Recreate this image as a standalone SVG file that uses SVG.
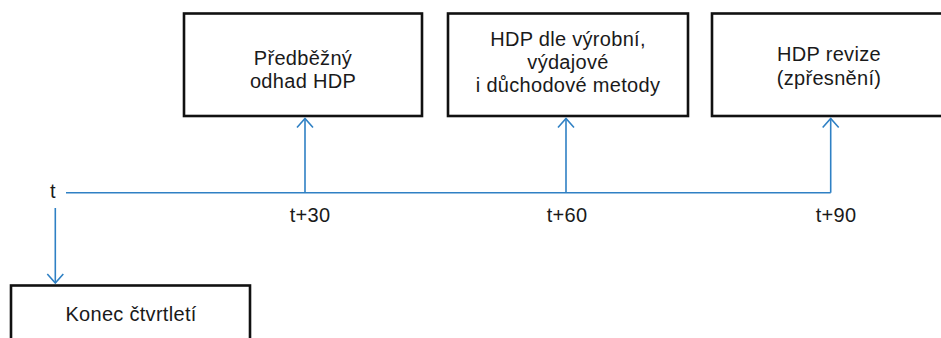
<svg xmlns="http://www.w3.org/2000/svg" width="941" height="338" viewBox="0 0 941 338">
<style>
.box{fill:#fff;stroke:#111;stroke-width:2.6}
.lbl{font-family:"Liberation Sans",Arial,sans-serif;font-size:20px;letter-spacing:0.3px;fill:#1a1a1a;text-anchor:middle}
.ln{fill:none;stroke:#2f80c4;stroke-width:1.6}
.ah{fill:none;stroke:#2f80c4;stroke-width:1.6;stroke-linejoin:miter}
</style>
<rect width="941" height="338" fill="#fff"/>
<g id="node-predbezny">
<rect class="box" x="184" y="13.5" width="238" height="102.5"/>
<text class="lbl"><tspan x="303" y="65">Předběžný</tspan><tspan x="303" y="88">odhad HDP</tspan></text>
</g>
<g id="node-metody">
<rect class="box" x="448" y="13.5" width="240" height="102.5"/>
<text class="lbl"><tspan x="568" y="45.5">HDP dle výrobní,</tspan><tspan x="568" y="68.5">výdajové</tspan><tspan x="568" y="91.5">i důchodové metody</tspan></text>
</g>
<g id="node-revize">
<rect class="box" x="712" y="13.5" width="240" height="102.5"/>
<text class="lbl"><tspan x="829" y="61">HDP revize</tspan><tspan x="829" y="85">(zpřesnění)</tspan></text>
</g>
<g id="node-konec">
<rect class="box" x="11" y="285.5" width="239" height="70"/>
<text class="lbl" x="131" y="320.5">Konec čtvrtletí</text>
</g>
<g id="labels">
<text class="lbl" x="53" y="198">t</text>
<text class="lbl" x="310" y="221.5">t+30</text>
<text class="lbl" x="567" y="221.5">t+60</text>
<text class="lbl" x="836" y="221.5">t+90</text>
</g>
<g id="connectors">
<path class="ln" d="M66 192.7 H830.7"/>
<path class="ln" d="M305 192.7 V118.5"/>
<path class="ah" d="M297 127.5 L305 118.5 L313 127.5"/>
<path class="ln" d="M566 192.7 V118.5"/>
<path class="ah" d="M558 127.5 L566 118.5 L574 127.5"/>
<path class="ln" d="M830.7 192.7 V118.5"/>
<path class="ah" d="M822.7 127.5 L830.7 118.5 L838.7 127.5"/>
<path class="ln" d="M55.3 208 V283"/>
<path class="ah" d="M47.3 274 L55.3 283 L63.3 274"/>
</g>
</svg>
